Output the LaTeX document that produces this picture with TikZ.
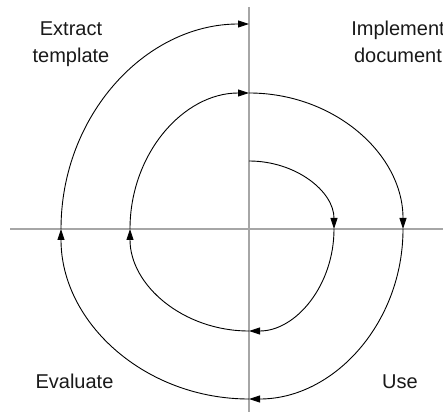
\documentclass[tikz,border=0pt]{standalone}
\usepackage{fontspec}
\setmainfont{Liberation Sans}
\usetikzlibrary{arrows.meta}
\begin{document}
\begin{tikzpicture}[x=1pt,y=1pt,
  axis/.style={draw=black!35, line width=1.3pt},
  turn/.style={draw=black, line width=0.9pt, -{Triangle[length=11pt,width=7pt]}},
  lbl/.style={font=\fontsize{20}{26.5}\selectfont, align=center, text=black!90, inner sep=0pt, anchor=base}]
\useasboundingbox (0,0) rectangle (443,412);
\coordinate (o) at (249,183);
\draw[axis] (249,405) coordinate (vt) -- (249,0) coordinate (vb);
\draw[axis] (10,183) coordinate (hl) -- (443,183) coordinate (hr);
\coordinate (p0) at (249,251);
\coordinate (p1) at (334,183);
\coordinate (p2) at (249,81);
\coordinate (p3) at (130,183);
\coordinate (p4) at (249,319);
\coordinate (p5) at (403,183);
\coordinate (p6) at (249,13);
\coordinate (p7) at (61,183);
\draw[turn] (p0) arc[start angle=90, end angle=0, x radius=85, y radius=68];
\draw[turn] (p1) arc[start angle=0, end angle=-90, x radius=85, y radius=102];
\draw[turn] (p2) arc[start angle=-90, end angle=-180, x radius=119, y radius=102];
\draw[turn] (p3) arc[start angle=180, end angle=90, x radius=119, y radius=136];
\draw[turn] (p4) arc[start angle=90, end angle=0, x radius=154, y radius=136];
\draw[turn] (p5) arc[start angle=0, end angle=-90, x radius=154, y radius=170];
\draw[turn] (p6) arc[start angle=-90, end angle=-180, x radius=188, y radius=170];
\draw[turn] (p7) arc[start angle=180, end angle=90, x radius=188, y radius=205];
\node[lbl] (extract) at (71,349.5) {Extract\\template};
\node[lbl] (implement) at (398,349.5) {Implement\\document};
\node[lbl] (evaluate) at (74.5,23.5) {Evaluate};
\node[lbl] (use) at (400,23.5) {Use};
\end{tikzpicture}
\end{document}
